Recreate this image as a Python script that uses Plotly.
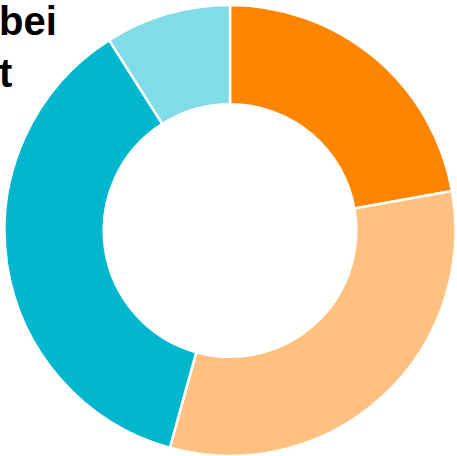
import plotly.graph_objects as go

# Datos del grafico de dona
etiquetas = ['A', 'B', 'C', 'D']
valores = [22.2, 32.1, 36.7, 9.0]
colores = ['#FF8500', '#FFC080', '#00B7CE', '#80DCE6']

fig = go.Figure(go.Pie(
	labels=etiquetas,
	values=valores,
	hole=0.56,
	sort=False,
	direction='clockwise',
	rotation=0,
	textinfo='none',
	hoverinfo='label+percent',
	marker=dict(colors=colores, line=dict(color='white', width=2.5)),
	domain=dict(x=[4 / 457, 456 / 457], y=[0, 451 / 456]),
))

fig.add_annotation(
	text='<b>bei</b><br><b>t</b>',
	xref='paper', yref='paper',
	x=0, y=1,
	xanchor='left', yanchor='top',
	xshift=-3, yshift=3,
	align='left',
	showarrow=False,
	font=dict(family='Liberation Sans, Arial', size=40, color='black'),
)

fig.update_layout(
	width=457, height=456,
	margin=dict(l=0, r=0, t=0, b=0),
	showlegend=False,
	paper_bgcolor='white',
	plot_bgcolor='white',
)

# quitar el margen de 8px que deja el body de la pagina
fig.write_html('out.html', config={'displayModeBar': False},
	post_script="document.body.style.margin='0';document.body.style.overflow='hidden';")
